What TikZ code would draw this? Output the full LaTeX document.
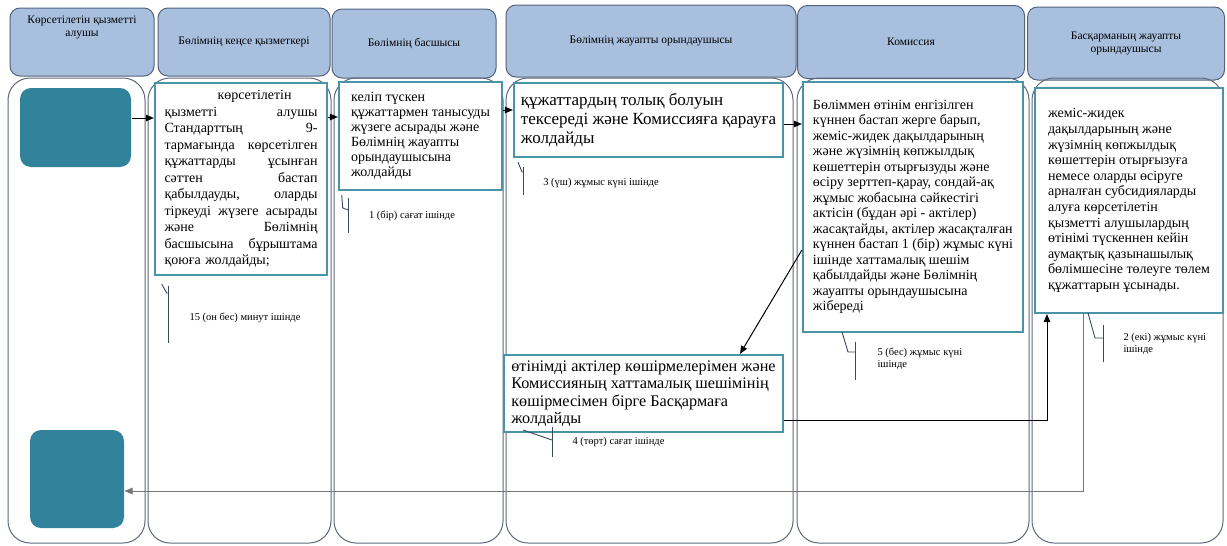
\documentclass[tikz,border=0pt]{standalone}
\usepackage{fontspec}
\setmainfont{Liberation Serif}
\usetikzlibrary{arrows.meta}

\definecolor{headfill}{RGB}{168,191,222}
\definecolor{headline}{RGB}{84,100,124}
\definecolor{laneline}{RGB}{96,106,122}
\definecolor{boxline}{RGB}{74,148,168}
\definecolor{tealfill}{RGB}{49,131,155}
\definecolor{calline}{RGB}{60,72,92}
\definecolor{retline}{RGB}{118,118,118}

\begin{document}
\begin{tikzpicture}[x=1pt, y=-1pt,
                    >={Triangle[length=8pt,width=6.5pt]},
                    line width=1pt,
                    headtext/.style={align=center, font=\fontsize{11.5}{13}\selectfont},
                    head/.style={draw=headline, fill=headfill, rounded corners=10pt, headtext},
                    lane/.style={draw=laneline, rounded corners=22pt},
                    task/.style={draw=boxline, line width=2.2pt, fill=white, align=left},
                    term/.style={fill=tealfill, rounded corners=11pt},
                    note/.style={font=\fontsize{10.5}{12.5}\selectfont, align=left, inner sep=0pt},
                    callout/.style={draw=calline, line width=0.9pt}]

	\fill[white] (0,0) rectangle (1227,546);
	\useasboundingbox (0,0) rectangle (1227,546);

	\node[head, minimum width=144, minimum height=68,
	      label={[headtext, anchor=north, yshift=-5pt]north:{Көрсетілетін қызметті\\алушы}}] (h1) at (82,42) {};
	\node[head, minimum width=172, minimum height=68] (h2) at (244,42) {Бөлімнің кеңсе қызметкері};
	\node[head, minimum width=164, minimum height=69] (h3) at (414,43.5) {Бөлімнің басшысы};
	\node[head, minimum width=290, minimum height=72] (h4) at (651,41) {Бөлімнің жауапты орындаушысы};
	\node[head, minimum width=227, minimum height=73] (h5) at (911,42) {Комиссия};
	\node[head, minimum width=197, minimum height=73] (h6) at (1126,43.5) {Басқарманың жауапты\\орындаушысы};

	\node[lane, minimum width=137, minimum height=465] (lane1) at (76.5,310.5) {};
	\node[lane, minimum width=183, minimum height=465] (lane2) at (239.5,310.5) {};
	\node[lane, minimum width=169, minimum height=465] (lane3) at (418.5,310.5) {};
	\node[lane, minimum width=287, minimum height=465] (lane4) at (649.5,310.5) {};
	\node[lane, minimum width=232, minimum height=465] (lane5) at (913,310.5) {};
	\node[lane, minimum width=191, minimum height=465] (lane6) at (1127.5,310.5) {};

	\node[term, minimum width=111, minimum height=79] (start) at (75.5,127.5) {};
	\node[term, minimum width=94, minimum height=98] (finish) at (77,479) {};

	\node[task, text width=153, minimum width=172, minimum height=192,
	      font=\fontsize{14}{16.5}\selectfont] (kense) at (241,179)
	     {\hspace*{53pt}көрсетілетін\\
	      қызметті \hfill алушы\\
	      Стандарттың \hfill 9-\\
	      тармағында \hfill көрсетілген\\
	      құжаттарды \hfill ұсынған\\
	      сәттен \hfill бастап\\
	      қабылдауды, \hfill оларды\\
	      тіркеуді \hfill жүзеге \hfill асырады\\
	      және \hfill Бөлімнің\\
	      басшысына \hfill бұрыштама\\
	      қоюға жолдайды;};
	\node[task, minimum width=163, minimum height=108,
	      font=\fontsize{14}{15}\selectfont] (bastyk) at (420.5,136)
	     {келіп түскен\\құжаттармен танысуды\\жүзеге асырады және\\Бөлімнің жауапты\\орындаушысына\\жолдайды};
	\node[task, minimum width=269, minimum height=74,
	      font=\fontsize{17}{19}\selectfont] (orynd) at (648.5,120)
	     {құжаттардың толық болуын\\тексереді және Комиссияға қарауға\\жолдайды};
	\node[task, minimum width=220, minimum height=250,
	      font=\fontsize{14}{15.5}\selectfont] (komis) at (913,207)
	     {Бөліммен өтінім енгізілген\\күннен бастап жерге барып,\\жеміс-жидек дақылдарының\\және жүзімнің көпжылдық\\көшеттерін отырғызуды және\\өсіру зерттеп-қарау, сондай-ақ\\жұмыс жобасына сәйкестігі\\актісін (бұдан әрі - актілер)\\жасақтайды, актілер жасақталған\\күннен бастап 1 (бір) жұмыс күні\\ішінде хаттамалық шешім\\қабылдайды және Бөлімнің\\жауапты орындаушысына\\жібереді};
	\node[task, minimum width=188, minimum height=225,
	      font=\fontsize{14}{15.6}\selectfont] (bask) at (1129,200.5)
	     {жеміс-жидек\\дақылдарының және\\жүзімнің көпжылдық\\көшеттерін отырғызуға\\немесе оларды өсіруге\\арналған субсидияларды\\алуға көрсетілетін\\қызметті алушылардың\\өтінімі түскеннен кейін\\аумақтық қазынашылық\\бөлімшесіне төлеуге төлем\\құжаттарын ұсынады.};
	\node[task, minimum width=279, minimum height=77,
	      font=\fontsize{16.2}{17.5}\selectfont] (jiber) at (643.5,393.5)
	     {өтінімді актілер көшірмелерімен және\\Комиссияның хаттамалық шешімінің\\көшірмесімен бірге Басқармаға\\жолдайды};

	\draw[->] (start.east |- 0,118) -- (kense.west |- 0,118);
	\draw[->] (kense.east |- 0,117) -- (bastyk.west |- 0,117);
	\draw[->] (bastyk.east |- 0,110) -- (orynd.west |- 0,110);
	\draw[->] (orynd.east |- 0,124) -- (komis.west |- 0,124);
	\draw[->] (komis.west |- 0,250) -- (jiber.north -| 740,0);
	\draw[->] (jiber.east |- 0,420) -| (bask.south -| 1047,0);
	\draw[->, draw=retline] (bask.south -| 1083,0) |- (finish.east |- 0,491);

	\draw[callout] (161.7,284) -- (166.7,293) -- (168.3,293);
	\draw[callout] (168.3,286) -- (168.3,343);
	\draw[callout] (341.7,195) -- (342.7,208) -- (348.3,210);
	\draw[callout] (348.3,198) -- (348.3,233);
	\draw[callout] (518,162) -- (522,172) -- (523,172);
	\draw[callout] (523,167) -- (523,195);
	\draw[callout] (842,332) -- (848,352) -- (855,352);
	\draw[callout] (855,342) -- (855,380);
	\draw[callout] (1088,313) -- (1095,338) -- (1103,338);
	\draw[callout] (1103,325) -- (1103,362);
	\draw[callout] (523,430) -- (552,440);
	\draw[callout] (552,427) -- (552,457);

	\node[note] (t15) at (245,318) {15 (он бес) минут ішінде};
	\node[note] (t1) at (412,216) {1 (бір) сағат ішінде};
	\node[note] (t3) at (601,183) {3 (үш) жұмыс күні ішінде};
	\node[note, anchor=west] (t5) at (877,359) {5 (бес) жұмыс күні\\ішінде};
	\node[note, anchor=west] (t2) at (1123,344) {2 (екі) жұмыс күні\\ішінде};
	\node[note, anchor=west] (t4) at (572,442) {4 (төрт) сағат ішінде};
\end{tikzpicture}
\end{document}
